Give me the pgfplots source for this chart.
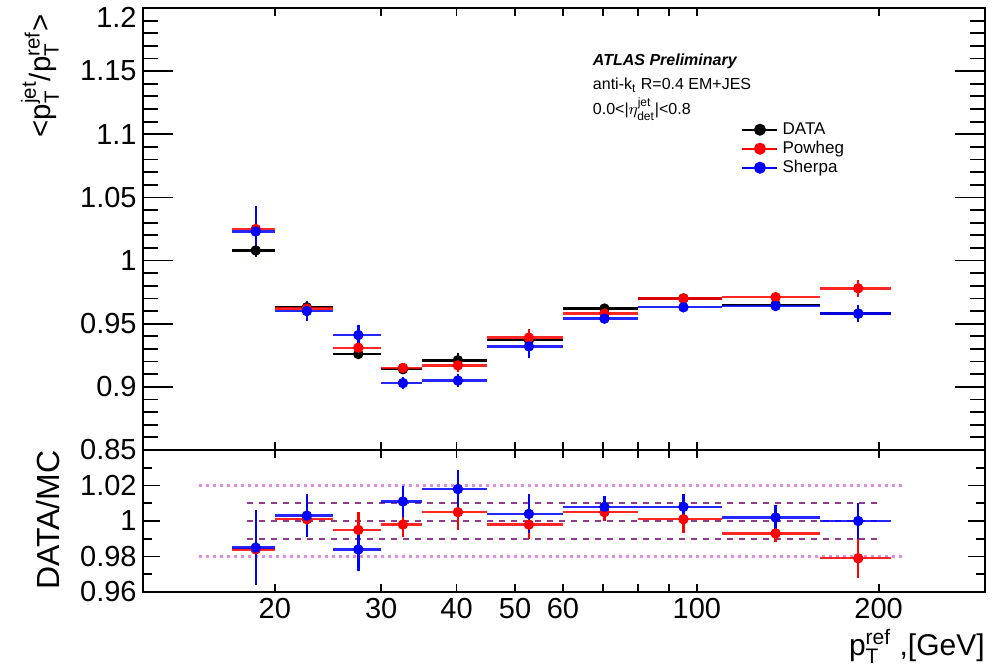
\documentclass[border=0pt]{standalone}
\usepackage{fontspec}
\setmainfont{Liberation Sans}
\usepackage{amsmath}
\usepackage{pgfplots}
\pgfplotsset{compat=1.18}

\definecolor{refdash}{RGB}{140,60,140}
\definecolor{refdot}{RGB}{225,140,225}

\pgfplotsset{
  hbar/.style={forget plot, no marks, line width=1.2pt},
  pts/.style={forget plot, only marks, mark=*, mark size=2.4pt,
    error bars/y dir=both, error bars/y explicit, error bars/error mark=none,
    error bars/error bar style={line width=1.2pt, #1}, color=#1},
}

\begin{document}
\begin{tikzpicture}[x=1pt,y=1pt]

% ---------------- upper panel: response ----------------
\begin{axis}[
  scale only axis, width=421pt, height=221pt,
  at={(71.5pt,109pt)}, anchor=south west,
  xmode=log, xmin=12.1, xmax=300,
  ymin=0.85, ymax=1.2,
  axis line style={line width=1.2pt},
  tick style={line width=0.9pt, black},
  tick align=inside, ytick pos=both,
  xtick=\empty, minor xtick={},
  ytick={0.85,0.9,0.95,1,1.05,1.1,1.15,1.2},
  yticklabels={0.85,0.9,0.95,1,1.05,1.1,1.15,\raisebox{-9.7pt}[0pt][0pt]{1.2}},
  minor y tick num=4,
  major tick length=15pt, minor tick length=7.5pt,
  /pgf/number format/assume math mode=true,
  ticklabel style={font=\fontsize{14.5}{16}\selectfont},
  yticklabel style={inner xsep=0pt, xshift=-3pt},
  unbounded coords=jump,
  legend style={at={(0.710,0.747)}, anchor=north west, draw=none, fill=none,
    font=\fontsize{8.5}{9.5}\selectfont, inner sep=0pt, row sep=0pt,
    nodes={inner ysep=0.5pt, inner xsep=2pt, text height=6.5pt, text depth=2pt}},
  legend cell align=left,
  legend image code/.code={\draw[mark repeat=2,mark phase=2,#1] plot coordinates {(0pt,0pt) (8.75pt,0pt) (17.5pt,0pt)};},
]
% DATA
\addplot[hbar, black] coordinates {
  (17,1.008) (20,1.008) (nan,nan) (20,0.963) (25,0.963) (nan,nan)
  (25,0.926) (30,0.926) (nan,nan) (30,0.914) (35,0.914) (nan,nan)
  (35,0.921) (45,0.921) (nan,nan) (45,0.937) (60,0.937) (nan,nan)
  (60,0.962) (80,0.962) (nan,nan) (80,0.970) (110,0.970) (nan,nan)
  (110,0.965) (160,0.965) (nan,nan) (160,0.958) (210,0.958)};
\addplot[pts=black] coordinates {
  (18.6,1.008) +- (0,0.004) (22.6,0.963) +- (0,0.004) (27.5,0.926) +- (0,0.004)
  (32.6,0.914) +- (0,0.002) (40.2,0.921) +- (0,0.006) (52.7,0.937) +- (0,0.003)
  (70.3,0.962) +- (0,0.003) (95,0.970) +- (0,0.003) (135,0.965) +- (0,0.003)
  (185,0.958) +- (0,0.003)};
% Powheg
\addplot[hbar, red, opacity=0.85] coordinates {
  (17,1.025) (20,1.025) (nan,nan) (20,0.962) (25,0.962) (nan,nan)
  (25,0.931) (30,0.931) (nan,nan) (30,0.915) (35,0.915) (nan,nan)
  (35,0.917) (45,0.917) (nan,nan) (45,0.939) (60,0.939) (nan,nan)
  (60,0.958) (80,0.958) (nan,nan) (80,0.970) (110,0.970) (nan,nan)
  (110,0.971) (160,0.971) (nan,nan) (160,0.978) (210,0.978)};
\addplot[pts=red] coordinates {
  (18.6,1.025) +- (0,0.008) (22.6,0.962) +- (0,0.004) (27.5,0.931) +- (0,0.005)
  (32.6,0.915) +- (0,0.003) (40.2,0.917) +- (0,0.005) (52.7,0.939) +- (0,0.007)
  (70.3,0.958) +- (0,0.003) (95,0.970) +- (0,0.003) (135,0.971) +- (0,0.003)
  (185,0.978) +- (0,0.007)};
% Sherpa
\addplot[hbar, blue, opacity=0.85] coordinates {
  (17,1.023) (20,1.023) (nan,nan) (20,0.960) (25,0.960) (nan,nan)
  (25,0.941) (30,0.941) (nan,nan) (30,0.903) (35,0.903) (nan,nan)
  (35,0.905) (45,0.905) (nan,nan) (45,0.932) (60,0.932) (nan,nan)
  (60,0.954) (80,0.954) (nan,nan) (80,0.963) (110,0.963) (nan,nan)
  (110,0.964) (160,0.964) (nan,nan) (160,0.958) (210,0.958)};
\addplot[pts=blue] coordinates {
  (18.6,1.023) +- (0,0.020) (22.6,0.960) +- (0,0.008) (27.5,0.941) +- (0,0.008)
  (32.6,0.903) +- (0,0.005) (40.2,0.905) +- (0,0.005) (52.7,0.932) +- (0,0.009)
  (70.3,0.954) +- (0,0.003) (95,0.963) +- (0,0.004) (135,0.964) +- (0,0.004)
  (185,0.958) +- (0,0.007)};

\addlegendimage{black, line width=1.2pt, mark=*, mark size=2.4pt}
\addlegendentry{DATA}
\addlegendimage{red, line width=1.2pt, mark=*, mark size=2.4pt}
\addlegendentry{Powheg}
\addlegendimage{blue, line width=1.2pt, mark=*, mark size=2.4pt}
\addlegendentry{Sherpa}

\node[anchor=base west, font=\bfseries\itshape\fontsize{8}{9}\selectfont]
  at (rel axis cs:0.526,0.869) {ATLAS Preliminary};
\node[anchor=base west, font=\fontsize{8}{9}\selectfont]
  at (rel axis cs:0.526,0.8145) {anti-k$_{\text{t}}$ R=0.4 EM+JES};
\node[anchor=base west, font=\fontsize{8}{9}\selectfont]
  at (rel axis cs:0.526,0.760) {0.0<|$\eta^{\text{jet}}_{\text{det}}$|<0.8};
\end{axis}

% short x ticks of the upper panel
\begin{axis}[
  scale only axis, width=421pt, height=221pt,
  at={(71.5pt,109pt)}, anchor=south west,
  xmode=log, xmin=12.1, xmax=300,
  ymin=0.85, ymax=1.2,
  axis line style={line width=1.2pt},
  tick style={line width=0.9pt, black},
  tick align=inside, xtick pos=both,
  xtick={20,30,40,50,60,70,80,90,100,200}, minor xtick={},
  xticklabels={}, ytick=\empty,
  major tick length=4pt,
]
\end{axis}

% ---------------- lower panel: ratio ----------------
\begin{axis}[
  scale only axis, width=421pt, height=71pt,
  at={(71.5pt,38pt)}, anchor=south west,
  xmode=log, xmin=12.1, xmax=300,
  ymin=0.96, ymax=1.04,
  axis line style={line width=1.2pt},
  tick style={line width=0.9pt, black},
  tick align=inside, ytick pos=both,
  xtick=\empty, minor xtick={},
  ytick={0.96,0.98,1,1.02},
  minor ytick={0.97,0.99,1.01,1.03},
  major tick length=8.5pt, minor tick length=4.5pt,
  /pgf/number format/assume math mode=true,
  ticklabel style={font=\fontsize{14.5}{16}\selectfont},
  yticklabel style={inner xsep=0pt, xshift=-3pt, /pgf/number format/fixed},
  unbounded coords=jump,
]
% reference bands
\addplot[forget plot, refdot, line width=1.2pt, dash pattern=on 1.5pt off 2pt] coordinates {(15,1.02) (220,1.02)};
\addplot[forget plot, refdot, line width=1.2pt, dash pattern=on 1.5pt off 2pt] coordinates {(15,0.98) (220,0.98)};
\addplot[forget plot, refdash, line width=1.1pt, dash pattern=on 3pt off 3pt] coordinates {(18,1.01) (200,1.01)};
\addplot[forget plot, refdash, line width=1.1pt, dash pattern=on 3pt off 3pt] coordinates {(18,1.00) (200,1.00)};
\addplot[forget plot, refdash, line width=1.1pt, dash pattern=on 3pt off 3pt] coordinates {(18,0.99) (200,0.99)};
% DATA/Powheg
\addplot[hbar, red, opacity=0.85] coordinates {
  (17,0.984) (20,0.984) (nan,nan) (20,1.001) (25,1.001) (nan,nan)
  (25,0.995) (30,0.995) (nan,nan) (30,0.998) (35,0.998) (nan,nan)
  (35,1.005) (45,1.005) (nan,nan) (45,0.998) (60,0.998) (nan,nan)
  (60,1.005) (80,1.005) (nan,nan) (80,1.001) (110,1.001) (nan,nan)
  (110,0.993) (160,0.993) (nan,nan) (160,0.979) (210,0.979)};
\addplot[pts=red] coordinates {
  (18.6,0.984) +- (0,0.012) (22.6,1.001) +- (0,0.005) (27.5,0.995) +- (0,0.010)
  (32.6,0.998) +- (0,0.007) (40.2,1.005) +- (0,0.010) (52.7,0.998) +- (0,0.008)
  (70.3,1.005) +- (0,0.005) (95,1.001) +- (0,0.008) (135,0.993) +- (0,0.005)
  (185,0.979) +- (0,0.011)};
% DATA/Sherpa
\addplot[hbar, blue, opacity=0.85] coordinates {
  (17,0.985) (20,0.985) (nan,nan) (20,1.003) (25,1.003) (nan,nan)
  (25,0.984) (30,0.984) (nan,nan) (30,1.011) (35,1.011) (nan,nan)
  (35,1.018) (45,1.018) (nan,nan) (45,1.004) (60,1.004) (nan,nan)
  (60,1.008) (80,1.008) (nan,nan) (80,1.008) (110,1.008) (nan,nan)
  (110,1.002) (160,1.002) (nan,nan) (160,1.000) (210,1.000)};
\addplot[pts=blue] coordinates {
  (18.6,0.985) +- (0,0.021) (22.6,1.003) +- (0,0.012) (27.5,0.984) +- (0,0.012)
  (32.6,1.011) +- (0,0.009) (40.2,1.018) +- (0,0.011) (52.7,1.004) +- (0,0.011)
  (70.3,1.008) +- (0,0.006) (95,1.008) +- (0,0.007) (135,1.002) +- (0,0.007)
  (185,1.000) +- (0,0.010)};
\end{axis}

% x ticks and labels of the lower panel
\begin{axis}[
  scale only axis, width=421pt, height=71pt,
  at={(71.5pt,38pt)}, anchor=south west,
  xmode=log, xmin=12.1, xmax=300,
  ymin=0.96, ymax=1.04,
  axis line style={line width=1.2pt},
  tick style={line width=0.9pt, black},
  tick align=inside, xtick pos=both,
  xtick={20,30,40,50,60,70,80,90,100,200}, minor xtick={},
  xticklabels={20,30,40,50,60,,,,100,200}, ytick=\empty,
  major tick length=4pt,
  ticklabel style={font=\fontsize{14.5}{16}\selectfont},
  xticklabel style={inner ysep=0pt, yshift=-3pt},
]
\end{axis}

% axis titles
\node[rotate=90, anchor=base east, font=\fontsize{14.7}{17}\selectfont, inner sep=0pt]
  at (25pt,327pt) {<p$^{\text{jet}}_{\text{T}}$/p$^{\text{ref}}_{\text{T}}$>};
\node[rotate=90, anchor=base east, font=\fontsize{16}{18}\selectfont, inner sep=0pt]
  at (29.5pt,109pt) {DATA/MC};
\node[anchor=base east, font=\fontsize{15}{17}\selectfont, inner sep=0pt]
  at (492.5pt,6.5pt) {p$^{\text{ref}}_{\text{T}}$ ,[GeV]};

\pgfresetboundingbox
\useasboundingbox (0pt,0pt) rectangle (499.5pt,334pt);
\end{tikzpicture}
\end{document}
